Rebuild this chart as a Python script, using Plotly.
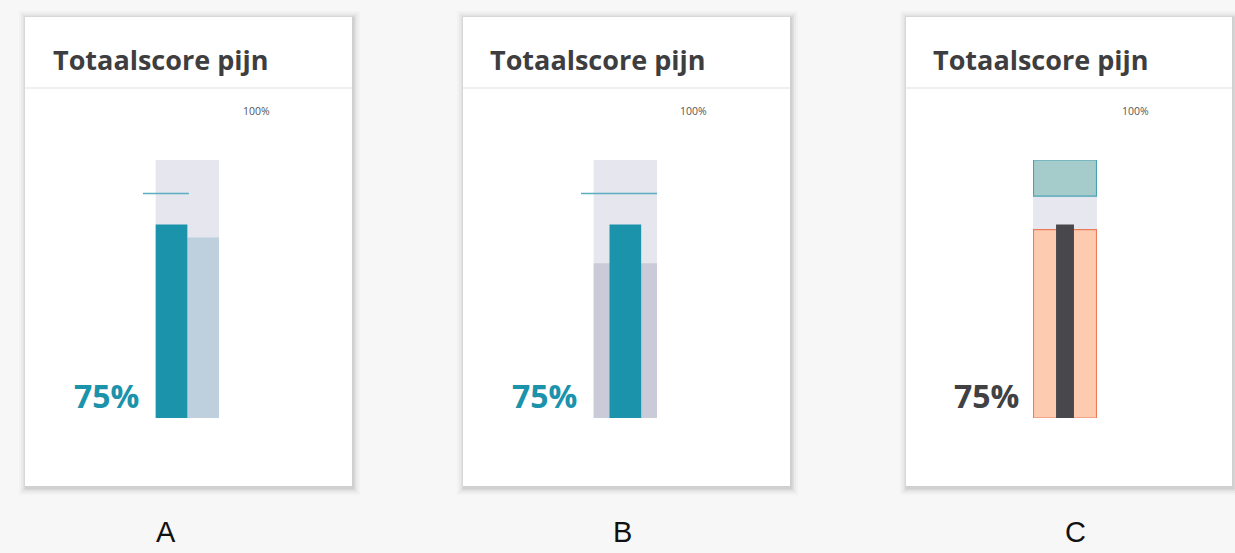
import plotly.graph_objects as go

W, H = 1235, 553

# ---- data ----
panels = ["A", "B", "C"]
title_text = "Totaalscore pijn"
score = 75            # patient score (%)
score_label = "75%"
scale_max = 100
scale_label = "100%"
target = 87           # reference / target line
compare_A = 70        # comparison bar in A
range_B = 60          # shaded range in B
good_zone_C = (86, 100)   # teal zone in C
bad_zone_C = (0, 73)      # orange zone in C

# ---- layout helpers (pixel -> paper) ----
def px(x):
    return x / W

def py(y):
    return 1 - y / H

fig = go.Figure()

BG = "#e5e6ee"
TEAL = "#1b93ab"

# Panel A
fig.add_trace(go.Bar(x=[0], y=[scale_max], width=[2], marker=dict(color=BG, line=dict(width=0)),
                     xaxis="x", yaxis="y", hoverinfo="skip"))
fig.add_trace(go.Bar(x=[0.5], y=[compare_A], width=[1], marker=dict(color="#bed0dd", line=dict(width=0)),
                     xaxis="x", yaxis="y"))
fig.add_trace(go.Bar(x=[-0.5], y=[score], width=[1], marker=dict(color=TEAL, line=dict(width=0)),
                     xaxis="x", yaxis="y"))
fig.add_trace(go.Scatter(x=[-1.4, 0.05], y=[target, target], mode="lines",
                         line=dict(color="#5aaec0", width=1.5), xaxis="x", yaxis="y"))

# Panel B
fig.add_trace(go.Bar(x=[0], y=[scale_max], width=[2], marker=dict(color=BG, line=dict(width=0)),
                     xaxis="x2", yaxis="y2"))
fig.add_trace(go.Bar(x=[0], y=[range_B], width=[2], marker=dict(color="#c9ccd8", line=dict(width=0)),
                     xaxis="x2", yaxis="y2"))
fig.add_trace(go.Bar(x=[0], y=[score], width=[1], marker=dict(color=TEAL, line=dict(width=0)),
                     xaxis="x2", yaxis="y2"))
fig.add_trace(go.Scatter(x=[-1.4, 1], y=[target, target], mode="lines",
                         line=dict(color="#5aaec0", width=1.5), xaxis="x2", yaxis="y2"))

# Panel C
fig.add_trace(go.Bar(x=[0], y=[scale_max], width=[2], marker=dict(color="#e7e7f0", line=dict(width=0)),
                     xaxis="x3", yaxis="y3"))
fig.add_trace(go.Bar(x=[0], y=[good_zone_C[1] - good_zone_C[0]], base=[good_zone_C[0]], width=[1.97],
                     marker=dict(color="#a6cbcb", line=dict(color="#4aa3b3", width=1.2)),
                     xaxis="x3", yaxis="y3"))
fig.add_trace(go.Bar(x=[0], y=[bad_zone_C[1] - bad_zone_C[0]], base=[bad_zone_C[0]], width=[1.97],
                     marker=dict(color="#fdccb0", line=dict(color="#ec7b5c", width=1.2)),
                     xaxis="x3", yaxis="y3"))
fig.add_trace(go.Bar(x=[0], y=[score], width=[0.56], marker=dict(color="#48484c", line=dict(width=0)),
                     xaxis="x3", yaxis="y3"))

ydom = [py(418), py(160)]
axis_common = dict(showgrid=False, zeroline=False, showticklabels=False, showline=False, fixedrange=True)

layout = dict(
    width=W, height=H,
    margin=dict(l=0, r=0, t=0, b=0),
    paper_bgcolor="#f7f7f7",
    plot_bgcolor="rgba(0,0,0,0)",
    showlegend=False,
    barmode="overlay",
    xaxis=dict(domain=[px(143), px(219)], range=[-1.4, 1], **axis_common),
    xaxis2=dict(domain=[px(581), px(657)], range=[-1.4, 1], **axis_common),
    xaxis3=dict(domain=[px(1033), px(1097)], range=[-1, 1], **axis_common),
    yaxis=dict(domain=ydom, range=[0, 100], anchor="x", **axis_common),
    yaxis2=dict(domain=ydom, range=[0, 100], anchor="x2", **axis_common),
    yaxis3=dict(domain=ydom, range=[0, 100], anchor="x3", **axis_common),
)
fig.update_layout(**layout)

# Cards with soft shadow
cards = [(25, 17, 352, 486), (463, 17, 790, 486), (906, 17, 1232, 486)]
shapes = []
for (x0, y0, x1, y1) in cards:
    for k, op in [(7, 0.02), (5, 0.03), (3, 0.04), (1.5, 0.07)]:
        shapes.append(dict(type="rect", xref="paper", yref="paper", layer="below",
                           x0=px(x0 - k + 1), x1=px(x1 + k + 1), y0=py(y1 + k + 2), y1=py(y0 - k + 1),
                           fillcolor=f"rgba(0,0,0,{op})", line=dict(width=0)))
    shapes.append(dict(type="rect", xref="paper", yref="paper", layer="below",
                       x0=px(x0), x1=px(x1), y0=py(y1), y1=py(y0),
                       fillcolor="#ffffff", line=dict(width=0)))
    shapes.append(dict(type="line", xref="paper", yref="paper", layer="below",
                       x0=px(x0), x1=px(x1), y0=py(88), y1=py(88),
                       line=dict(color="#e2e2e2", width=1.2)))
fig.update_layout(shapes=shapes)

anns = []
title_x = [51, 488, 931]
scale_x = [256, 693, 1135]
score_right = [141, 579, 1021]
score_colors = [TEAL, TEAL, "#414144"]
label_x = [166, 622, 1075]
for i in range(3):
    anns.append(dict(x=px(title_x[i]), y=py(59), xref="paper", yref="paper", text=title_text,
                     showarrow=False, xanchor="left", yanchor="middle",
                     font=dict(family="Open Sans", size=27, color="#3e3e40", weight="bold")))
    anns.append(dict(x=px(scale_x[i]), y=py(111), xref="paper", yref="paper", text=scale_label,
                     showarrow=False, xanchor="center", yanchor="middle",
                     font=dict(family="Open Sans", size=10.5, color="#555555")))
    anns.append(dict(x=px(score_right[i]), y=py(396), xref="paper", yref="paper", text=score_label,
                     showarrow=False, xanchor="right", yanchor="middle",
                     font=dict(family="Open Sans", size=32, color=score_colors[i], weight="bold")))
    anns.append(dict(x=px(label_x[i]), y=py(532), xref="paper", yref="paper", text=panels[i],
                     showarrow=False, xanchor="center", yanchor="middle",
                     font=dict(family="Liberation Sans", size=29, color="#111111")))
fig.update_layout(annotations=anns)

fig.write_html("out.html", config={"displayModeBar": False},
               post_script="document.body.style.margin='0';document.body.style.overflow='hidden';")
